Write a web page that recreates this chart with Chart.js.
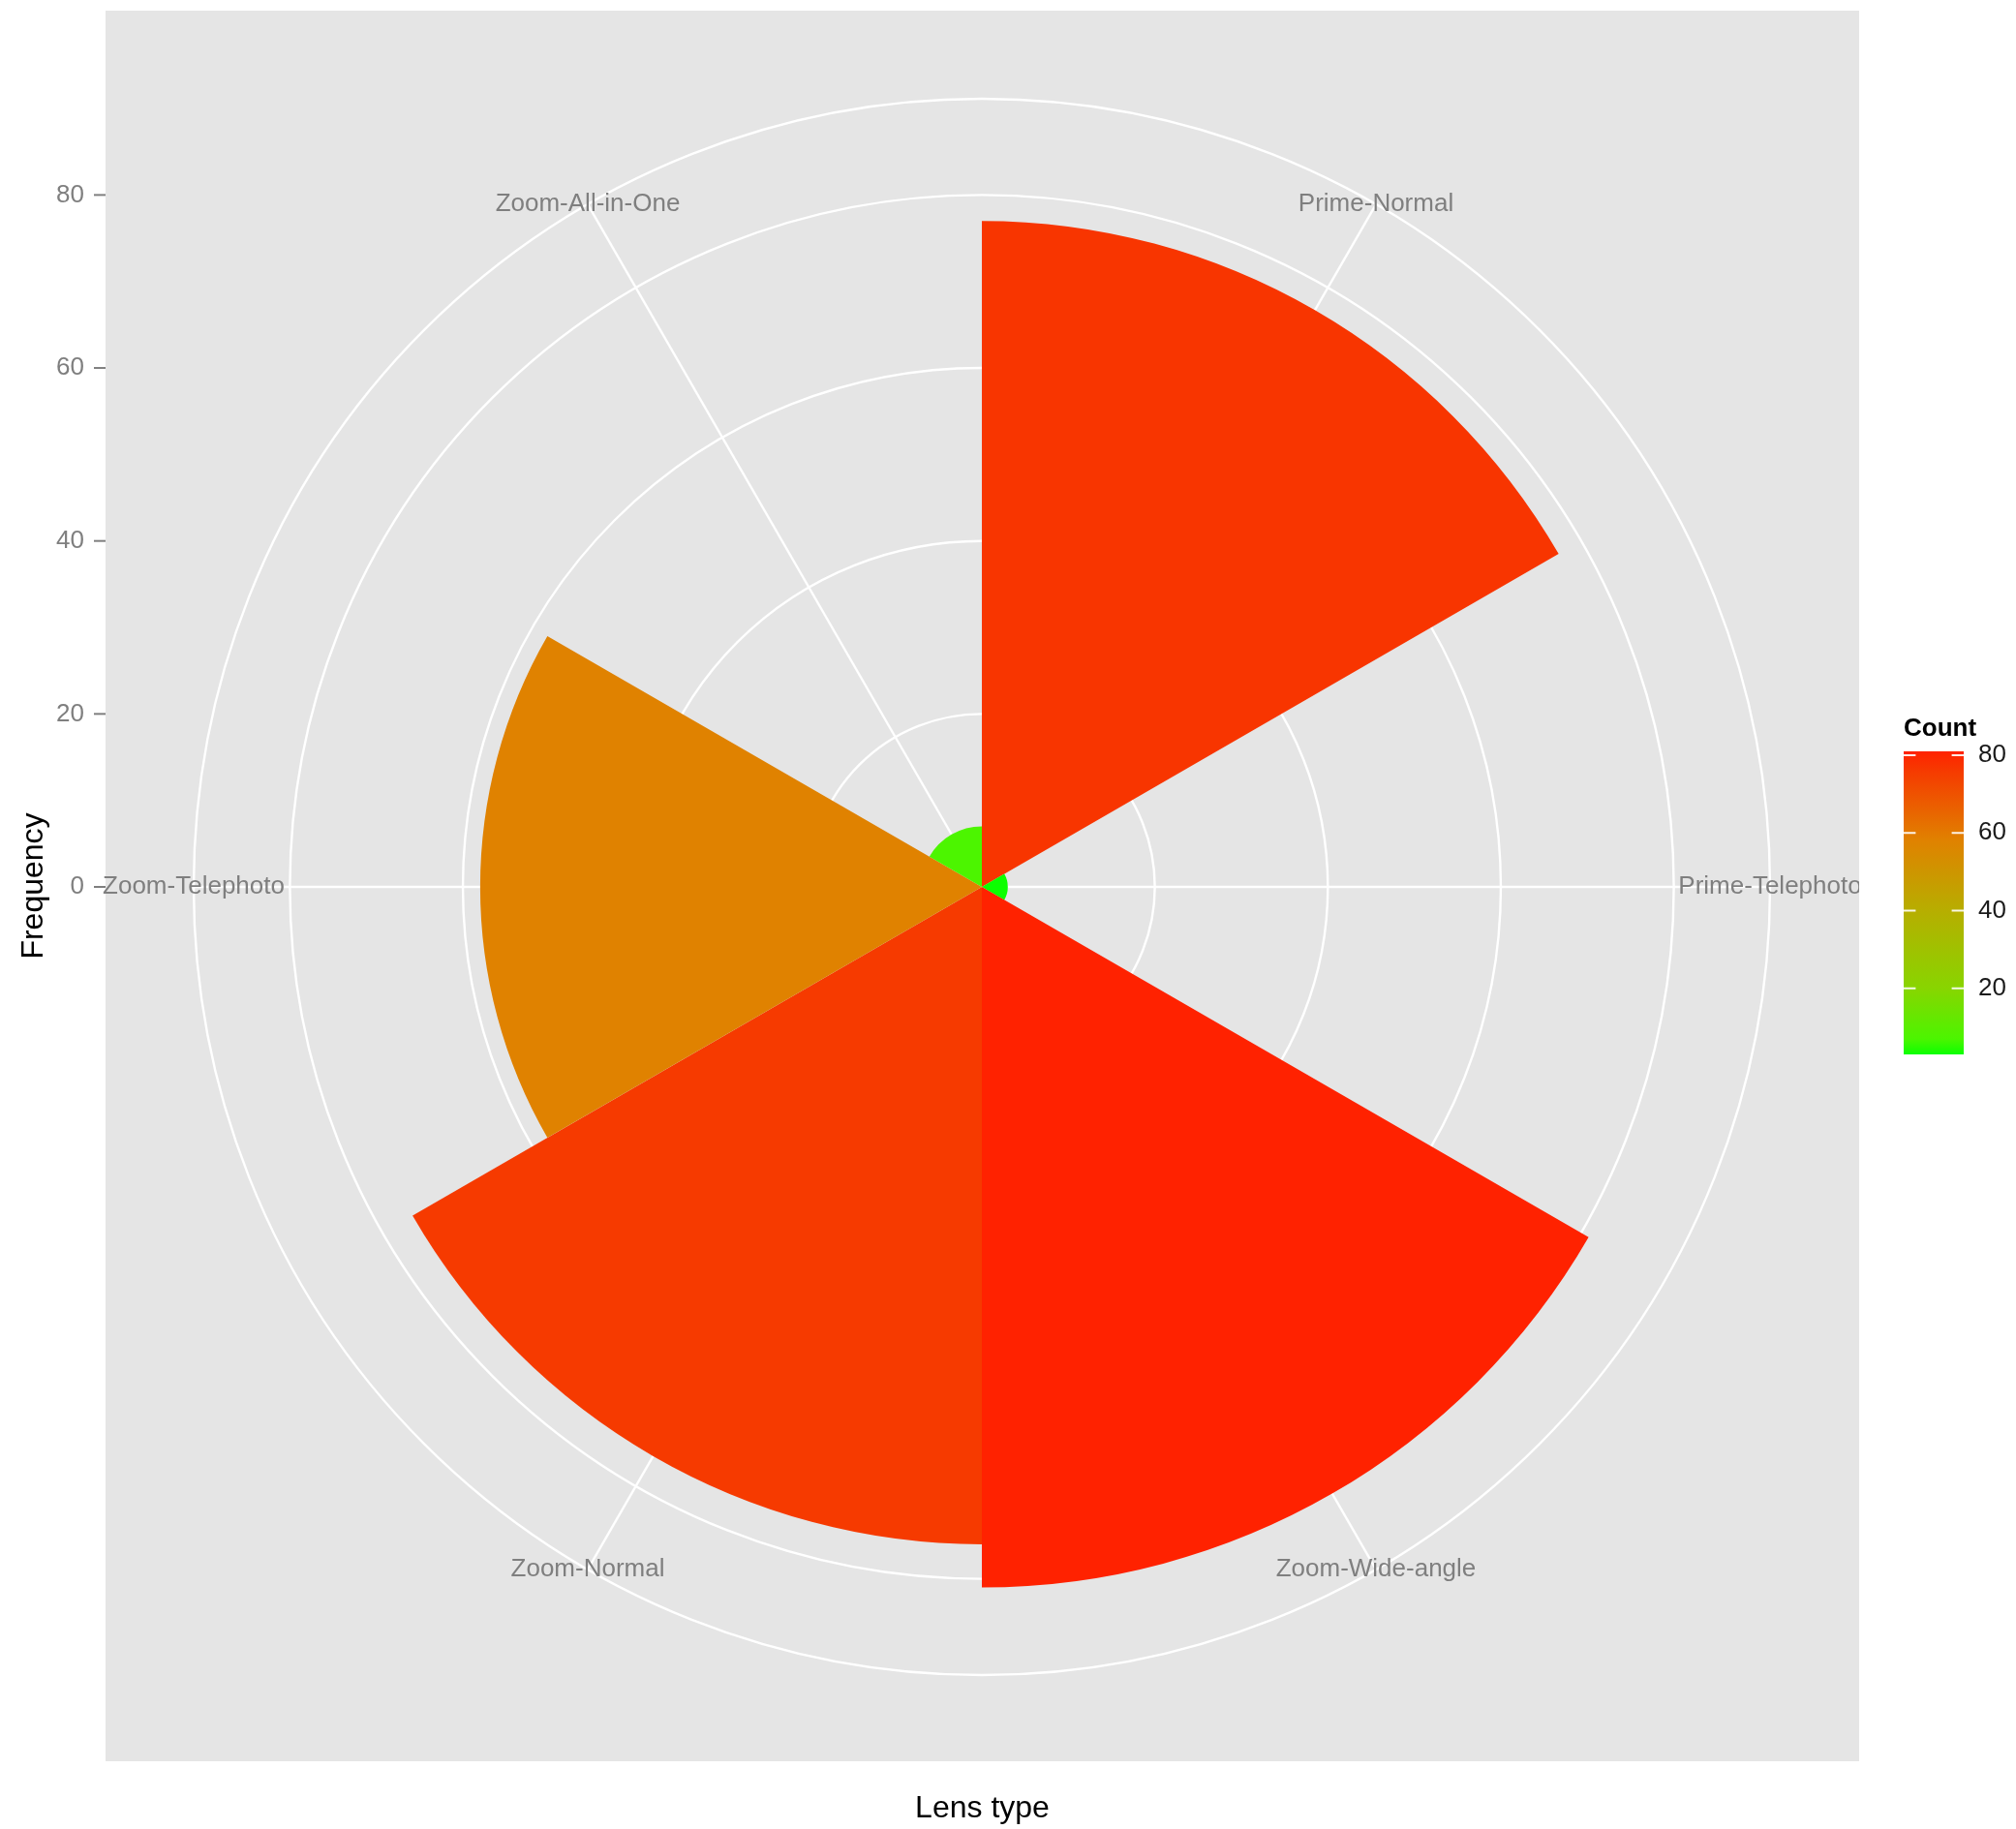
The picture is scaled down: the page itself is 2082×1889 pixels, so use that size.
<!DOCTYPE html>
<html>
<head>
<meta charset="utf-8">
<title>Lens type</title>
<script src="https://cdn.jsdelivr.net/npm/chart.js@4.4.0/dist/chart.umd.min.js"></script>
<style>
  html, body { margin: 0; padding: 0; background: #fff; }
  canvas { display: block; }
</style>
</head>
<body>
<canvas id="lens-chart" width="2082" height="1889"></canvas>
<script>
const lensTypes = ['Prime-Normal', 'Prime-Telephoto', 'Zoom-Wide-angle', 'Zoom-Normal', 'Zoom-Telephoto', 'Zoom-All-in-One'];
const counts = [77, 3, 81, 76, 58, 7];
const freqTicks = [0, 20, 40, 60, 80];
const countTicks = [20, 40, 60, 80];

// fill scale, green (low) -> red (high)
const colourStops = [
  [3, '#0cff00'], [7, '#4cf500'], [20, '#88d500'], [40, '#b7ae00'],
  [58, '#e08200'], [76, '#f63a00'], [81, '#ff2200']
];

const FONT = "'Liberation Sans', Arial, Helvetica, sans-serif";
const panel = { left: 109, top: 11, right: 1920, bottom: 1819 };

function hexToRgb(h) {
  return [1, 3, 5].map(i => parseInt(h.substr(i, 2), 16));
}

function colorFor(v) {
  if (v <= colourStops[0][0]) return colourStops[0][1];
  for (let i = 1; i < colourStops.length; i++) {
    const [v1, c1] = colourStops[i];
    if (v <= v1) {
      const [v0, c0] = colourStops[i - 1];
      const t = (v - v0) / (v1 - v0);
      const a = hexToRgb(c0), b = hexToRgb(c1);
      const rgb = a.map((x, k) => Math.round(x + (b[k] - x) * t));
      return `rgb(${rgb[0]}, ${rgb[1]}, ${rgb[2]})`;
    }
  }
  return colourStops[colourStops.length - 1][1];
}

const ggPolar = {
  id: 'ggPolar',
  beforeDraw(chart) {
    const { ctx } = chart;
    ctx.save();
    ctx.fillStyle = '#ffffff';
    ctx.fillRect(0, 0, chart.width, chart.height);
    ctx.fillStyle = '#e5e5e5';
    ctx.fillRect(panel.left, panel.top, panel.right - panel.left, panel.bottom - panel.top);
    ctx.restore();
  },
  beforeDatasetsDraw(chart) {
    // spokes through the middle of each sector
    const { ctx } = chart;
    const r = chart.scales.r;
    ctx.save();
    ctx.strokeStyle = '#ffffff';
    ctx.lineWidth = 2.4;
    lensTypes.forEach((_, i) => {
      const p = r.getPointPosition(i + 0.5, r.drawingArea);
      ctx.beginPath();
      ctx.moveTo(r.xCenter, r.yCenter);
      ctx.lineTo(p.x, p.y);
      ctx.stroke();
    });
    ctx.restore();
  },
  afterDraw(chart) {
    const { ctx } = chart;
    const r = chart.scales.r;

    // category labels on the outer ring
    ctx.save();
    ctx.beginPath();
    ctx.rect(0, 0, panel.right, chart.height);
    ctx.clip();
    ctx.font = `26px ${FONT}`;
    ctx.fillStyle = '#7f7f7f';
    ctx.textAlign = 'center';
    ctx.textBaseline = 'middle';
    lensTypes.forEach((label, i) => {
      const p = r.getPointPosition(i + 0.5, r.drawingArea);
      ctx.fillText(label, p.x, p.y);
    });
    ctx.restore();

    // left frequency axis
    ctx.save();
    ctx.font = `26px ${FONT}`;
    ctx.fillStyle = '#7f7f7f';
    ctx.strokeStyle = '#7f7f7f';
    ctx.lineWidth = 2;
    ctx.textAlign = 'right';
    ctx.textBaseline = 'middle';
    freqTicks.forEach(v => {
      const y = r.yCenter - r.getDistanceFromCenterForValue(v);
      ctx.fillText(String(v), 87, y);
      ctx.beginPath();
      ctx.moveTo(97, y);
      ctx.lineTo(panel.left, y);
      ctx.stroke();
    });
    ctx.restore();

    // axis titles
    ctx.save();
    ctx.font = `32px ${FONT}`;
    ctx.fillStyle = '#000000';
    ctx.textAlign = 'center';
    ctx.textBaseline = 'alphabetic';
    ctx.fillText('Lens type', (panel.left + panel.right) / 2, 1877);
    ctx.translate(44, (panel.top + panel.bottom) / 2);
    ctx.rotate(-Math.PI / 2);
    ctx.fillText('Frequency', 0, 0);
    ctx.restore();

    // colour bar legend
    const bar = { left: 1966, right: 2028, top: 776, bottom: 1089 };
    const lo = Math.min(...counts), hi = Math.max(...counts);
    const yFor = v => bar.bottom - (v - lo) / (hi - lo) * (bar.bottom - bar.top);
    ctx.save();
    const grad = ctx.createLinearGradient(0, bar.bottom, 0, bar.top);
    colourStops.forEach(([v, c]) => grad.addColorStop((v - lo) / (hi - lo), c));
    ctx.fillStyle = grad;
    ctx.fillRect(bar.left, bar.top, bar.right - bar.left, bar.bottom - bar.top);

    ctx.strokeStyle = 'rgba(255,255,255,0.9)';
    ctx.lineWidth = 2;
    const tickLen = (bar.right - bar.left) / 5;
    ctx.font = `26px ${FONT}`;
    ctx.fillStyle = '#1a1a1a';
    ctx.textAlign = 'left';
    ctx.textBaseline = 'middle';
    countTicks.forEach(v => {
      const y = yFor(v);
      ctx.beginPath();
      ctx.moveTo(bar.left, y);
      ctx.lineTo(bar.left + tickLen, y);
      ctx.moveTo(bar.right - tickLen, y);
      ctx.lineTo(bar.right, y);
      ctx.stroke();
      ctx.fillText(String(v), 2043, y);
    });

    ctx.font = `bold 26px ${FONT}`;
    ctx.fillStyle = '#000000';
    ctx.fillText('Count', 1966, 753);
    ctx.restore();
  }
};

const ctx = document.querySelector('#lens-chart').getContext('2d');
const chart = new Chart(ctx, {
  type: 'polarArea',
  data: {
    labels: lensTypes,
    datasets: [
      {
        label: 'Frequency',
        data: counts,
        backgroundColor: counts.map(colorFor),
        borderWidth: 0
      }
    ]
  },
  options: {
    responsive: false,
    devicePixelRatio: 1,
    animation: false,
    layout: {
      padding: { left: 200, top: 102, right: 254, bottom: 159 }
    },
    plugins: {
      legend: { display: false },
      tooltip: { enabled: false }
    },
    scales: {
      r: {
        min: 0,
        // outer ring sits at 0.45 / 0.4 of the largest count, as in ggplot's coord_polar
        max: Math.max(...counts) * 0.45 / 0.4,
        startAngle: 0,
        ticks: { display: false, stepSize: 20 },
        grid: { color: '#ffffff', lineWidth: 2.4, circular: true },
        angleLines: { display: false },
        pointLabels: { display: false }
      }
    }
  },
  plugins: [ggPolar]
});
</script>
</body>
</html>
